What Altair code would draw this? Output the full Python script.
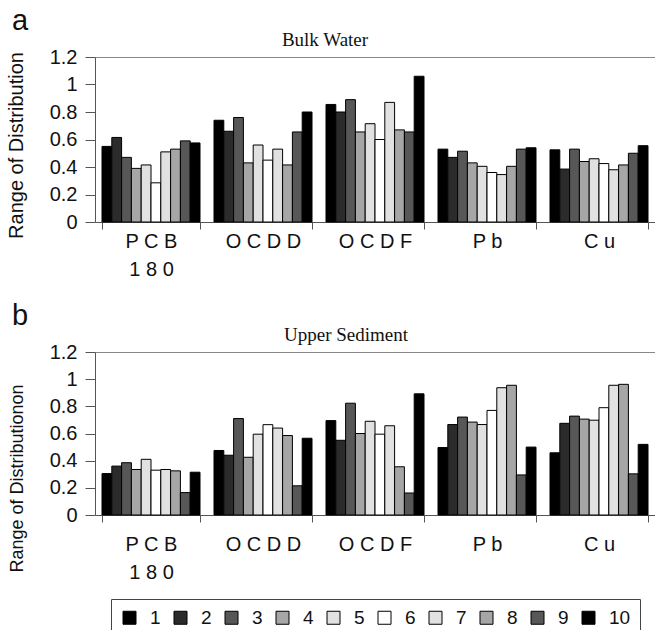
import altair as alt
import pandas as pd

groups = ["PCB 180", "OCDD", "OCDF", "Pb", "Cu"]
series = ["1", "2", "3", "4", "5", "6", "7", "8", "9", "10"]
series_colors = ["#000000", "#2b2b2b", "#575757", "#a6a6a6", "#e1e1e1",
                 "#ffffff", "#e1e1e1", "#a6a6a6", "#575757", "#000000"]
y_ticks = [0, 0.2, 0.4, 0.6, 0.8, 1.0, 1.2]

# a: Bulk Water
bulk_pcb180 = [0.55, 0.615, 0.47, 0.39, 0.415, 0.285, 0.51, 0.53, 0.59, 0.575]
bulk_ocdd = [0.74, 0.66, 0.76, 0.43, 0.56, 0.45, 0.53, 0.415, 0.655, 0.80]
bulk_ocdf = [0.855, 0.80, 0.89, 0.655, 0.715, 0.60, 0.87, 0.67, 0.655, 1.06]
bulk_pb = [0.53, 0.47, 0.515, 0.43, 0.405, 0.36, 0.345, 0.405, 0.53, 0.54]
bulk_cu = [0.525, 0.385, 0.53, 0.44, 0.46, 0.425, 0.38, 0.415, 0.50, 0.555]

# b: Upper Sediment
sed_pcb180 = [0.305, 0.36, 0.385, 0.335, 0.41, 0.33, 0.335, 0.325, 0.165, 0.315]
sed_ocdd = [0.475, 0.44, 0.71, 0.425, 0.595, 0.665, 0.64, 0.585, 0.215, 0.565]
sed_ocdf = [0.695, 0.55, 0.823, 0.60, 0.69, 0.595, 0.657, 0.355, 0.162, 0.892]
sed_pb = [0.497, 0.666, 0.721, 0.684, 0.666, 0.77, 0.937, 0.955, 0.295, 0.50]
sed_cu = [0.458, 0.675, 0.728, 0.706, 0.698, 0.79, 0.955, 0.962, 0.303, 0.52]

display_labels = {
    "PCB 180": ["P C B", "1 8 0"],
    "OCDD": ["O C D D"],
    "OCDF": ["O C D F"],
    "Pb": ["P b"],
    "Cu": ["C u"],
}


def frame(values_by_group):
    rows = []
    for g, vals in zip(groups, values_by_group):
        for s, v in zip(series, vals):
            rows.append({"group": g, "series": s, "value": v})
    return pd.DataFrame(rows)


def label_expr():
    parts = []
    for g in groups:
        arr = "[" + ", ".join("'" + t + "'" for t in display_labels[g]) + "]"
        parts.append("datum.value == '" + g + "' ? " + arr + " : ")
    return "".join(parts) + "datum.label"


FONT = "Liberation Sans"
AX = "#555555"


def panel(df, title, title_x, letter, ytitle, ytitle_size, ytitle_y, height, x_label_pad):
    base = alt.Chart(df)
    bars = base.mark_bar(stroke="black", strokeWidth=1).encode(
        x=alt.X("group:N", sort=groups,
                scale=alt.Scale(paddingInner=0.125, paddingOuter=0.0625),
                axis=alt.Axis(title=None, labelAngle=0, tickBand="extent",
                              labelExpr=label_expr(), labelFont=FONT,
                              labelFontSize=20, labelColor="#111111",
                              labelLineHeight=28, labelPadding=x_label_pad,
                              tickSize=7, tickColor=AX, domainColor=AX,
                              labelBaseline="top")),
        xOffset=alt.XOffset("series:N", sort=series,
                            scale=alt.Scale(paddingInner=0, paddingOuter=0)),
        y=alt.Y("value:Q", scale=alt.Scale(domain=[0, 1.2], nice=False),
                axis=alt.Axis(values=y_ticks,
                              format="~g", tickSize=10,
                              labelOverlap=False,
                              grid=True, gridWidth=1.2,
                              gridColor=alt.condition("datum.value >= 1.19",
                                                      alt.value("#888888"),
                                                      alt.value("transparent")),
                              tickColor=AX, domainColor=AX, labelFont=FONT,
                              labelFontSize=20, labelColor="#111111",
                              labelPadding=8, title=ytitle, titleFont=FONT,
                              titleFontSize=ytitle_size, titleFontWeight="normal",
                              titleColor="#111111", titleX=-69, titleY=ytitle_y,
                              titleBaseline="bottom", titleAngle=270)),
        color=alt.Color("series:N", sort=series,
                        scale=alt.Scale(domain=series, range=series_colors),
                        legend=alt.Legend(orient="none", legendX=16, legendY=542,
                                          direction="horizontal", columns=10,
                                          title=None, symbolType="square",
                                          symbolSize=169, symbolStrokeColor="black",
                                          symbolStrokeWidth=1, labelFont=FONT,
                                          labelFontSize=19, labelColor="#111111",
                                          labelOffset=11, columnPadding=10,
                                          strokeColor="#444444", padding=9)),
    )
    letter_text = alt.Chart(pd.DataFrame({"t": [letter]})).mark_text(
        font=FONT, fontSize=29, align="left", baseline="alphabetic",
        color="#111111").encode(text="t:N", x=alt.value(-83), y=alt.value(-27))
    title_text = alt.Chart(pd.DataFrame({"t": [title]})).mark_text(
        font="Liberation Serif", fontSize=19, align="center", baseline="alphabetic",
        color="#111111").encode(text="t:N", x=alt.value(title_x), y=alt.value(-11))
    return alt.layer(bars, letter_text, title_text).properties(
        width=560, height=height,
    )


top = panel(frame([bulk_pcb180, bulk_ocdd, bulk_ocdf, bulk_pb, bulk_cu]),
            "Bulk Water", 230, "a", "Range of Distribution", 20, 88, 165, 2)
bottom = panel(frame([sed_pcb180, sed_ocdd, sed_ocdf, sed_pb, sed_cu]),
               "Upper Sediment", 251, "b", "Range of Distributionon", 18, 126, 163, 12)

chart = alt.vconcat(top, bottom, spacing=130, bounds="flush").properties(
    padding={"left": 6, "top": 7, "right": 0, "bottom": 0},
    background="white",
).configure_view(strokeWidth=0)

chart.save("out.html", embed_options={"renderer": "svg", "actions": False})
